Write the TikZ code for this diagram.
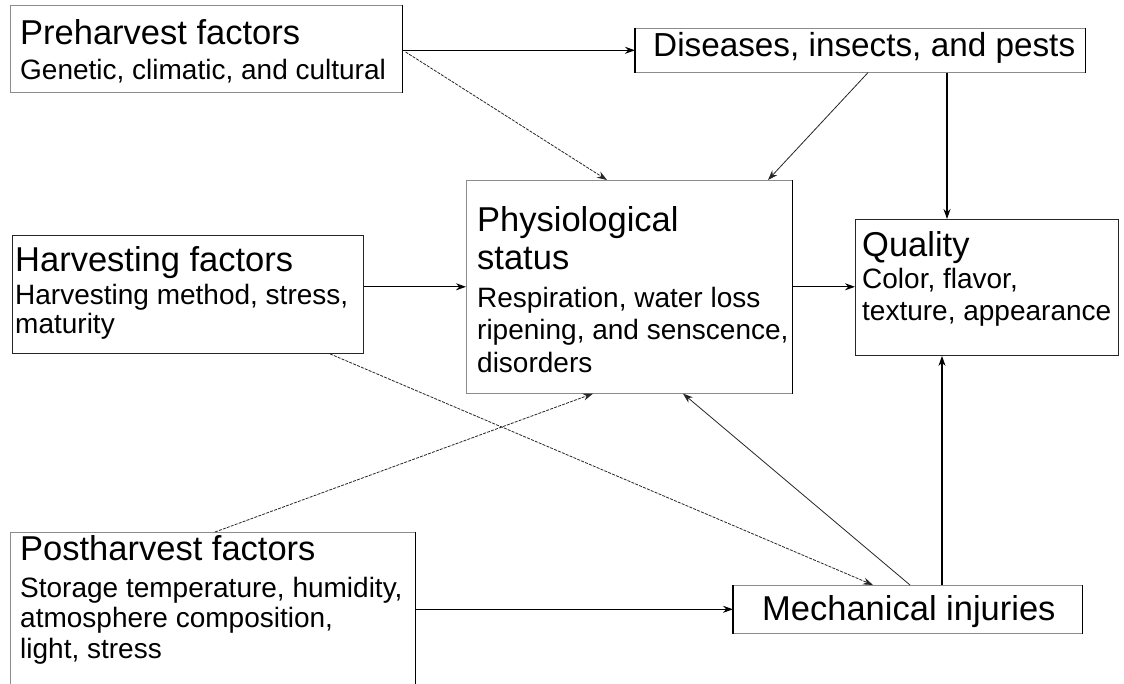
\documentclass[tikz,border=0pt]{standalone}
\usepackage{fontspec}
\setmainfont{Liberation Sans}
\usetikzlibrary{arrows.meta,calc}
\begin{document}
\begin{tikzpicture}[x=1pt,y=-1pt,
  box/.style={draw=black!45,line width=0.6pt,inner sep=0pt,anchor=north west},
  boxdark/.style={draw=black!85,line width=0.9pt,inner sep=0pt,anchor=north west},
  edge/.style={draw=black,line width=1.1pt},
  ttl/.style={anchor=base west,inner sep=0pt,font=\fontsize{34.5}{40}\selectfont},
  bdy/.style={anchor=base west,inner sep=0pt,font=\fontsize{28}{32}\selectfont},
  arr/.style={draw=black,line width=1.1pt,-{Stealth[length=10pt,width=7pt]}},
  darr/.style={draw=black!85,line width=0.8pt,-{Stealth[length=10pt,width=7pt]}},
  dotarr/.style={darr,dash pattern=on 3pt off 1.2pt}
]
\useasboundingbox[fill=white] (0,0) rectangle (1124,684);

% boxes
\node[box,minimum width=392pt,minimum height=87pt] (pre) at (10,5) {};
\node[box,minimum width=450pt,minimum height=44pt] (dis) at (635,28) {};
\node[box,minimum width=326pt,minimum height=213pt] (phys) at (466,180) {};
\node[boxdark,minimum width=351pt,minimum height=118pt] (harv) at (12,235) {};
\node[boxdark,minimum width=263pt,minimum height=136pt] (qual) at (855,219) {};
\node[box,minimum width=405pt,minimum height=160pt] (post) at (10,532) {};
\node[box,minimum width=349pt,minimum height=48pt] (mech) at (733,585) {};

% darker edges
\draw[edge] (pre.north east) -- (pre.south east);
\draw[edge] (dis.north west) -- (dis.south west);
\draw[edge] (dis.north east) -- (dis.south east);
\draw[edge] (phys.north east) -- (phys.south east);
\draw[edge] (post.north east) -- (post.south east);
\draw[edge] (mech.north west) -- (mech.south west);
\draw[edge] (mech.north east) -- (mech.south east);

% texts
\node[ttl] (preT) at (20,45) {Preharvest factors};
\node[bdy] (preB) at (20,80) {Genetic, climatic, and cultural};

\node[ttl,font=\fontsize{33.3}{40}\selectfont] (disT) at (653,57) {Diseases, insects, and pests};

\node[ttl] (physT1) at (477,232) {Physiological};
\node[ttl] (physT2) at (477,270) {status};
\node[bdy] (physB1) at (477,308) {Respiration, water loss};
\node[bdy] (physB2) at (477,340) {ripening, and senscence,};
\node[bdy] (physB3) at (477,372) {disorders};

\node[ttl] (harvT) at (15,272) {Harvesting factors};
\node[bdy] (harvB1) at (15,305) {Harvesting method, stress,};
\node[bdy] (harvB2) at (15,334) {maturity};

\node[ttl] (qualT) at (862,257) {Quality};
\node[bdy] (qualB1) at (862,289) {Color, flavor,};
\node[bdy] (qualB2) at (862,321) {texture, appearance};

\node[ttl] (postT) at (20,560) {Postharvest factors};
\node[bdy] (postB1) at (20,597) {Storage temperature, humidity,};
\node[bdy] (postB2) at (20,627) {atmosphere composition,};
\node[bdy] (postB3) at (20,658) {light, stress};

\node[ttl] (mechT) at (762,620) {Mechanical injuries};

% connectors
\draw[arr] (pre.east |- dis.west) -- (dis.west);
\draw[dotarr] ($(pre.north east)+(3,47)$) -- ($(phys.north west)+(141,0)$);
\draw[darr] ($(dis.south west)+(233,0)$) -- ($(phys.north west)+(302,0)$);
\coordinate (qtop) at ($(qual.north west)+(92,0)$);
\draw[arr] (qtop |- dis.south) -- (qtop);
\draw[arr] (phys.west -| harv.east) -- (phys.west);
\draw[arr] (phys.east) -- (phys.east -| qual.west);
\draw[dotarr] ($(harv.south west)+(318,0)$) -- ($(mech.north west)+(140,0)$);
\draw[dotarr] ($(post.north west)+(205,0)$) -- ($(phys.south west)+(127,0)$);
\draw[darr] ($(mech.north west)+(177,0)$) -- ($(phys.south west)+(217,0)$);
\coordinate (qbot) at ($(qual.south west)+(87,0)$);
\draw[arr] (qbot |- mech.north) -- (qbot);
\draw[arr] (mech.west -| post.east) -- (mech.west);
\end{tikzpicture}
\end{document}
